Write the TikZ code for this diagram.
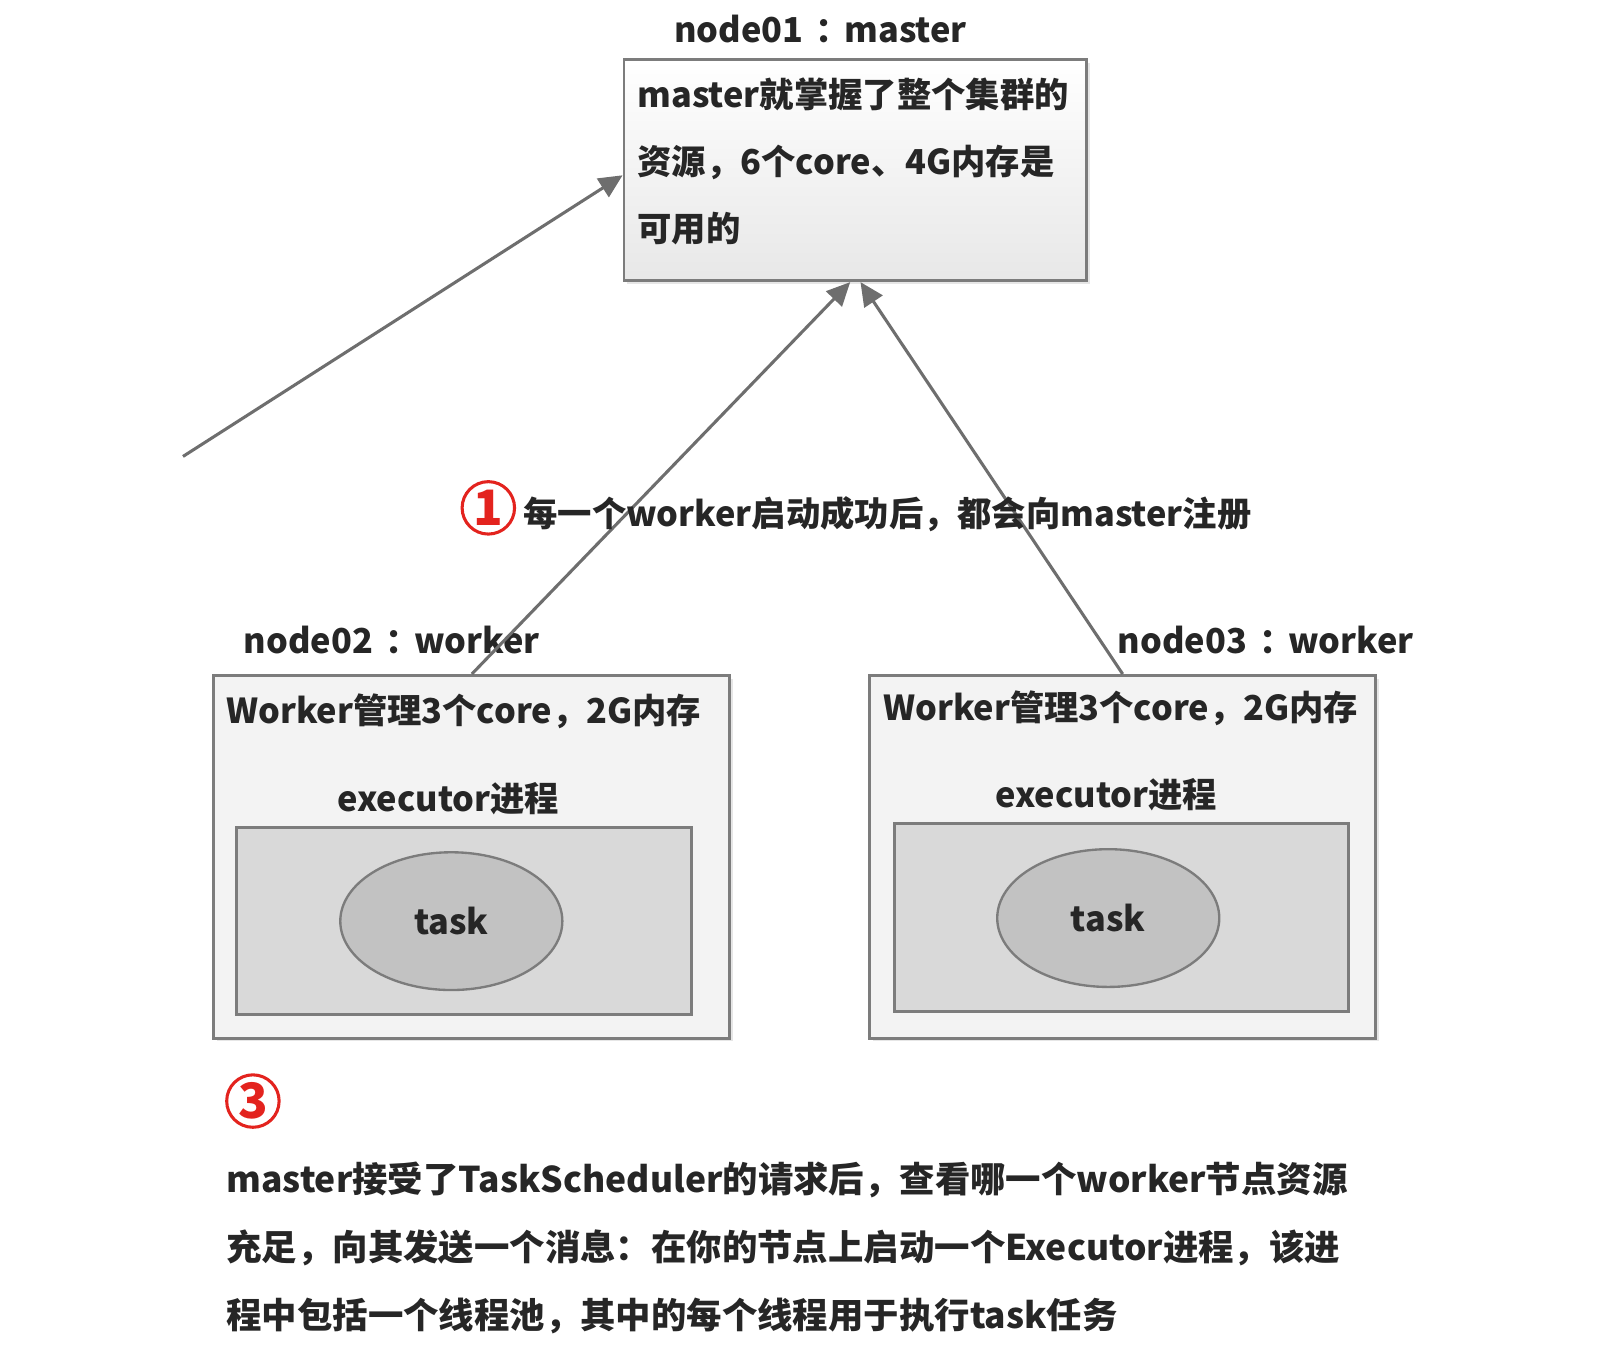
\documentclass[tikz,border=0pt]{standalone}
\usepackage{fontspec}
\setmainfont{Noto Sans CJK SC}
\usetikzlibrary{arrows.meta,positioning,shapes.geometric,shadows}
\definecolor{BoxEdge}{HTML}{7C7C7C}
\definecolor{BoxFill}{HTML}{F3F3F3}
\definecolor{ExecFill}{HTML}{D9D9D9}
\definecolor{TaskFill}{HTML}{C2C2C2}
\definecolor{LinkGray}{HTML}{6E6E6E}
\definecolor{MarkRed}{HTML}{E3231E}
\definecolor{TextInk}{HTML}{262626}
\newcommand{\hostsep}{\hspace{0.35em}：\hspace{-0.15em}}

\begin{document}
\begin{tikzpicture}[x=0.2mm, y=-0.2mm,
  every node/.style={text=TextInk, font=\fontsize{19}{37}\selectfont\bfseries},
  hostbox/.style={draw=BoxEdge, line width=1.6pt, fill=BoxFill, inner sep=0pt,
                  drop shadow={shadow xshift=0.6mm, shadow yshift=-0.6mm, opacity=0.2}},
  execbox/.style={draw=BoxEdge, line width=1.6pt, fill=ExecFill, inner sep=0pt},
  taskblob/.style={ellipse, draw=BoxEdge, line width=1.3pt, fill=TaskFill,
                   minimum width=4.32cm, minimum height=2.68cm},
  stepmark/.style={circle, draw=MarkRed, line width=1.7pt, text=MarkRed,
                   font=\fontsize{27}{27}\selectfont\bfseries,
                   minimum size=1.02cm, inner sep=0pt},
  link/.style={-{Triangle[length=13pt, width=12pt]},
               line width=1.7pt, draw=LinkGray}
]
\useasboundingbox (0,0) rectangle (1568,1311);

% master
\node[hostbox, top color=white, bottom color=BoxFill!90!gray,
      minimum width=9cm, minimum height=4.3cm] (master) at (832,165.5) {};
\node (mtitle) at (798,28) {node01\hostsep master};
\node[anchor=west, align=left] (mtext) at (614,157)
  {master就掌握了整个集群的\\资源，6个core、4G内存是\\可用的};

% workers
\node[hostbox, minimum width=10.04cm, minimum height=7.06cm] (w1) at (459,833.5) {};
\node[hostbox, minimum width=9.84cm, minimum height=7.06cm] (w2) at (1092,833.5) {};
\node (w1title) at (381,623) {node02\hostsep worker};
\node (w2title) at (1231,623) {node03\hostsep worker};
\node (w1text) at (451,692) {Worker管理3个core，2G内存};
\node (w2text) at (1090,689) {Worker管理3个core，2G内存};
\node (e1title) at (436,777) {executor进程};
\node (e2title) at (1076,773) {executor进程};
\node[execbox, minimum width=8.86cm, minimum height=3.64cm] (e1) at (451.5,896) {};
\node[execbox, minimum width=8.84cm, minimum height=3.66cm] (e2) at (1091,892.5) {};
\node[taskblob] (t1) at (439,896) {task};
\node[taskblob] (t2) at (1078,893) {task};

% registration
\coordinate (client) at (178,444);
\draw[link] (client) -- ([yshift=-1mm]master.west);
\draw[link] (w1.north) -- ([xshift=-1mm]master.south);
\draw[link] (w2.north) -- ([xshift=1mm]master.south);
\node[stepmark] (s1) at (475,494) {1};
\node[anchor=west] (s1text) at (503,500) {每一个worker启动成功后，都会向master注册};

% step 3
\node[stepmark] (s3) at (246,1071) {3};
\node[anchor=west, align=left, font=\fontsize{19.6}{37.5}\selectfont\bfseries]
  (s3text) at (214,1214)
  {master接受了TaskScheduler的请求后，查看哪一个worker节点资源\\
   充足，向其发送一个消息：在你的节点上启动一个Executor进程，该进\\
   程中包括一个线程池，其中的每个线程用于执行task任务};
\end{tikzpicture}
\end{document}
